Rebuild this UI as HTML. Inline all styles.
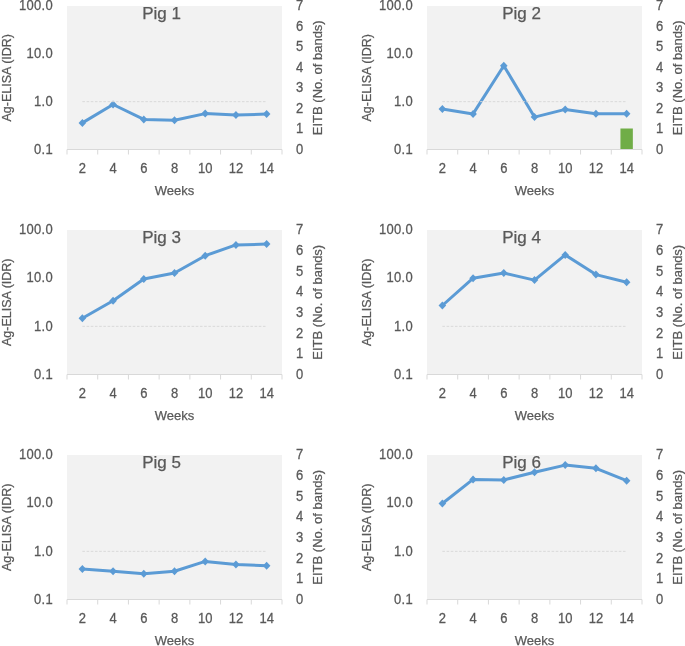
<!DOCTYPE html><html><head><meta charset="utf-8"><style>html,body{margin:0;padding:0;background:#fff;}svg{display:block;will-change:transform;}text{font-family:"Liberation Sans", sans-serif;fill:#595959;stroke:#595959;stroke-width:0.25px;}</style></head><body>
<svg width="685" height="646" viewBox="0 0 685 646">
<rect width="685" height="646" fill="#fff"/>
<rect x="67" y="6" width="215" height="143" fill="#F2F2F2"/>
<line x1="67" y1="149.5" x2="282" y2="149.5" stroke="#D9D9D9" stroke-width="1"/>
<line x1="67.00" y1="149.5" x2="67.00" y2="154.5" stroke="#D9D9D9" stroke-width="1"/>
<line x1="97.71" y1="149.5" x2="97.71" y2="154.5" stroke="#D9D9D9" stroke-width="1"/>
<line x1="128.43" y1="149.5" x2="128.43" y2="154.5" stroke="#D9D9D9" stroke-width="1"/>
<line x1="159.14" y1="149.5" x2="159.14" y2="154.5" stroke="#D9D9D9" stroke-width="1"/>
<line x1="189.86" y1="149.5" x2="189.86" y2="154.5" stroke="#D9D9D9" stroke-width="1"/>
<line x1="220.57" y1="149.5" x2="220.57" y2="154.5" stroke="#D9D9D9" stroke-width="1"/>
<line x1="251.29" y1="149.5" x2="251.29" y2="154.5" stroke="#D9D9D9" stroke-width="1"/>
<line x1="282.00" y1="149.5" x2="282.00" y2="154.5" stroke="#D9D9D9" stroke-width="1"/>
<polyline points="82.36,122.90 113.07,104.50 143.79,119.40 174.50,120.20 205.21,113.60 235.93,114.90 266.64,114.10" fill="none" stroke="#5B9BD5" stroke-width="3" stroke-linejoin="round" stroke-linecap="round"/>
<path d="M82.36 118.90L86.16 122.90L82.36 126.90L78.56 122.90Z" fill="#5B9BD5"/>
<path d="M113.07 100.50L116.87 104.50L113.07 108.50L109.27 104.50Z" fill="#5B9BD5"/>
<path d="M143.79 115.40L147.59 119.40L143.79 123.40L139.99 119.40Z" fill="#5B9BD5"/>
<path d="M174.50 116.20L178.30 120.20L174.50 124.20L170.70 120.20Z" fill="#5B9BD5"/>
<path d="M205.21 109.60L209.01 113.60L205.21 117.60L201.41 113.60Z" fill="#5B9BD5"/>
<path d="M235.93 110.90L239.73 114.90L235.93 118.90L232.13 114.90Z" fill="#5B9BD5"/>
<path d="M266.64 110.10L270.44 114.10L266.64 118.10L262.84 114.10Z" fill="#5B9BD5"/>
<line x1="82.36" y1="101.67" x2="266.64" y2="101.67" stroke="#D9D9D9" stroke-width="1" stroke-dasharray="2.6,1.6"/>
<text transform="translate(53.00,153.80) scale(1,1.08)" font-size="13" letter-spacing="0.3" text-anchor="end">0.1</text>
<text transform="translate(53.00,105.97) scale(1,1.08)" font-size="13" letter-spacing="0.3" text-anchor="end">1.0</text>
<text transform="translate(53.00,58.13) scale(1,1.08)" font-size="13" letter-spacing="0.3" text-anchor="end">10.0</text>
<text transform="translate(53.00,10.30) scale(1,1.08)" font-size="13" letter-spacing="0.3" text-anchor="end">100.0</text>
<text transform="translate(296.00,153.80) scale(1,1.08)" font-size="13">0</text>
<text transform="translate(296.00,133.30) scale(1,1.08)" font-size="13">1</text>
<text transform="translate(296.00,112.80) scale(1,1.08)" font-size="13">2</text>
<text transform="translate(296.00,92.30) scale(1,1.08)" font-size="13">3</text>
<text transform="translate(296.00,71.80) scale(1,1.08)" font-size="13">4</text>
<text transform="translate(296.00,51.30) scale(1,1.08)" font-size="13">5</text>
<text transform="translate(296.00,30.80) scale(1,1.08)" font-size="13">6</text>
<text transform="translate(296.00,10.30) scale(1,1.08)" font-size="13">7</text>
<text transform="translate(82.36,173.25) scale(1,1.08)" font-size="13" text-anchor="middle">2</text>
<text transform="translate(113.07,173.25) scale(1,1.08)" font-size="13" text-anchor="middle">4</text>
<text transform="translate(143.79,173.25) scale(1,1.08)" font-size="13" text-anchor="middle">6</text>
<text transform="translate(174.50,173.25) scale(1,1.08)" font-size="13" text-anchor="middle">8</text>
<text transform="translate(205.21,173.25) scale(1,1.08)" font-size="13" text-anchor="middle">10</text>
<text transform="translate(235.93,173.25) scale(1,1.08)" font-size="13" text-anchor="middle">12</text>
<text transform="translate(266.64,173.25) scale(1,1.08)" font-size="13" text-anchor="middle">14</text>
<text x="174.50" y="195.10" font-size="13" text-anchor="middle">Weeks</text>
<text x="161.50" y="18.60" font-size="17" text-anchor="middle">Pig 1</text>
<text transform="translate(11.00,77.75) rotate(-90)" font-size="13" text-anchor="middle" textLength="87.5" lengthAdjust="spacingAndGlyphs">Ag-ELISA (IDR)</text>
<text transform="translate(322.00,77.75) rotate(-90)" font-size="13" text-anchor="middle">EITB (No. of bands)</text>
<rect x="427" y="6" width="215" height="143" fill="#F2F2F2"/>
<rect x="620.44" y="128.50" width="12.4" height="20.50" fill="#70AD47"/>
<line x1="427" y1="149.5" x2="642" y2="149.5" stroke="#D9D9D9" stroke-width="1"/>
<line x1="427.00" y1="149.5" x2="427.00" y2="154.5" stroke="#D9D9D9" stroke-width="1"/>
<line x1="457.71" y1="149.5" x2="457.71" y2="154.5" stroke="#D9D9D9" stroke-width="1"/>
<line x1="488.43" y1="149.5" x2="488.43" y2="154.5" stroke="#D9D9D9" stroke-width="1"/>
<line x1="519.14" y1="149.5" x2="519.14" y2="154.5" stroke="#D9D9D9" stroke-width="1"/>
<line x1="549.86" y1="149.5" x2="549.86" y2="154.5" stroke="#D9D9D9" stroke-width="1"/>
<line x1="580.57" y1="149.5" x2="580.57" y2="154.5" stroke="#D9D9D9" stroke-width="1"/>
<line x1="611.29" y1="149.5" x2="611.29" y2="154.5" stroke="#D9D9D9" stroke-width="1"/>
<line x1="642.00" y1="149.5" x2="642.00" y2="154.5" stroke="#D9D9D9" stroke-width="1"/>
<polyline points="442.36,109.10 473.07,113.90 503.79,65.70 534.50,117.10 565.21,109.40 595.93,113.70 626.64,113.70" fill="none" stroke="#5B9BD5" stroke-width="3" stroke-linejoin="round" stroke-linecap="round"/>
<path d="M442.36 105.10L446.16 109.10L442.36 113.10L438.56 109.10Z" fill="#5B9BD5"/>
<path d="M473.07 109.90L476.87 113.90L473.07 117.90L469.27 113.90Z" fill="#5B9BD5"/>
<path d="M503.79 61.70L507.59 65.70L503.79 69.70L499.99 65.70Z" fill="#5B9BD5"/>
<path d="M534.50 113.10L538.30 117.10L534.50 121.10L530.70 117.10Z" fill="#5B9BD5"/>
<path d="M565.21 105.40L569.01 109.40L565.21 113.40L561.41 109.40Z" fill="#5B9BD5"/>
<path d="M595.93 109.70L599.73 113.70L595.93 117.70L592.13 113.70Z" fill="#5B9BD5"/>
<path d="M626.64 109.70L630.44 113.70L626.64 117.70L622.84 113.70Z" fill="#5B9BD5"/>
<line x1="442.36" y1="101.67" x2="626.64" y2="101.67" stroke="#D9D9D9" stroke-width="1" stroke-dasharray="2.6,1.6"/>
<text transform="translate(413.00,153.80) scale(1,1.08)" font-size="13" letter-spacing="0.3" text-anchor="end">0.1</text>
<text transform="translate(413.00,105.97) scale(1,1.08)" font-size="13" letter-spacing="0.3" text-anchor="end">1.0</text>
<text transform="translate(413.00,58.13) scale(1,1.08)" font-size="13" letter-spacing="0.3" text-anchor="end">10.0</text>
<text transform="translate(413.00,10.30) scale(1,1.08)" font-size="13" letter-spacing="0.3" text-anchor="end">100.0</text>
<text transform="translate(656.00,153.80) scale(1,1.08)" font-size="13">0</text>
<text transform="translate(656.00,133.30) scale(1,1.08)" font-size="13">1</text>
<text transform="translate(656.00,112.80) scale(1,1.08)" font-size="13">2</text>
<text transform="translate(656.00,92.30) scale(1,1.08)" font-size="13">3</text>
<text transform="translate(656.00,71.80) scale(1,1.08)" font-size="13">4</text>
<text transform="translate(656.00,51.30) scale(1,1.08)" font-size="13">5</text>
<text transform="translate(656.00,30.80) scale(1,1.08)" font-size="13">6</text>
<text transform="translate(656.00,10.30) scale(1,1.08)" font-size="13">7</text>
<text transform="translate(442.36,173.25) scale(1,1.08)" font-size="13" text-anchor="middle">2</text>
<text transform="translate(473.07,173.25) scale(1,1.08)" font-size="13" text-anchor="middle">4</text>
<text transform="translate(503.79,173.25) scale(1,1.08)" font-size="13" text-anchor="middle">6</text>
<text transform="translate(534.50,173.25) scale(1,1.08)" font-size="13" text-anchor="middle">8</text>
<text transform="translate(565.21,173.25) scale(1,1.08)" font-size="13" text-anchor="middle">10</text>
<text transform="translate(595.93,173.25) scale(1,1.08)" font-size="13" text-anchor="middle">12</text>
<text transform="translate(626.64,173.25) scale(1,1.08)" font-size="13" text-anchor="middle">14</text>
<text x="534.50" y="195.10" font-size="13" text-anchor="middle">Weeks</text>
<text x="521.50" y="18.60" font-size="17" text-anchor="middle">Pig 2</text>
<text transform="translate(371.00,77.75) rotate(-90)" font-size="13" text-anchor="middle" textLength="87.5" lengthAdjust="spacingAndGlyphs">Ag-ELISA (IDR)</text>
<text transform="translate(682.00,77.75) rotate(-90)" font-size="13" text-anchor="middle">EITB (No. of bands)</text>
<rect x="67" y="230" width="215" height="144" fill="#F2F2F2"/>
<line x1="67" y1="374.5" x2="282" y2="374.5" stroke="#D9D9D9" stroke-width="1"/>
<line x1="67.00" y1="374.5" x2="67.00" y2="379.5" stroke="#D9D9D9" stroke-width="1"/>
<line x1="97.71" y1="374.5" x2="97.71" y2="379.5" stroke="#D9D9D9" stroke-width="1"/>
<line x1="128.43" y1="374.5" x2="128.43" y2="379.5" stroke="#D9D9D9" stroke-width="1"/>
<line x1="159.14" y1="374.5" x2="159.14" y2="379.5" stroke="#D9D9D9" stroke-width="1"/>
<line x1="189.86" y1="374.5" x2="189.86" y2="379.5" stroke="#D9D9D9" stroke-width="1"/>
<line x1="220.57" y1="374.5" x2="220.57" y2="379.5" stroke="#D9D9D9" stroke-width="1"/>
<line x1="251.29" y1="374.5" x2="251.29" y2="379.5" stroke="#D9D9D9" stroke-width="1"/>
<line x1="282.00" y1="374.5" x2="282.00" y2="379.5" stroke="#D9D9D9" stroke-width="1"/>
<polyline points="82.36,318.30 113.07,300.70 143.79,279.00 174.50,273.00 205.21,255.70 235.93,244.90 266.64,244.10" fill="none" stroke="#5B9BD5" stroke-width="3" stroke-linejoin="round" stroke-linecap="round"/>
<path d="M82.36 314.30L86.16 318.30L82.36 322.30L78.56 318.30Z" fill="#5B9BD5"/>
<path d="M113.07 296.70L116.87 300.70L113.07 304.70L109.27 300.70Z" fill="#5B9BD5"/>
<path d="M143.79 275.00L147.59 279.00L143.79 283.00L139.99 279.00Z" fill="#5B9BD5"/>
<path d="M174.50 269.00L178.30 273.00L174.50 277.00L170.70 273.00Z" fill="#5B9BD5"/>
<path d="M205.21 251.70L209.01 255.70L205.21 259.70L201.41 255.70Z" fill="#5B9BD5"/>
<path d="M235.93 240.90L239.73 244.90L235.93 248.90L232.13 244.90Z" fill="#5B9BD5"/>
<path d="M266.64 240.10L270.44 244.10L266.64 248.10L262.84 244.10Z" fill="#5B9BD5"/>
<line x1="82.36" y1="326.33" x2="266.64" y2="326.33" stroke="#D9D9D9" stroke-width="1" stroke-dasharray="2.6,1.6"/>
<text transform="translate(53.00,378.80) scale(1,1.08)" font-size="13" letter-spacing="0.3" text-anchor="end">0.1</text>
<text transform="translate(53.00,330.63) scale(1,1.08)" font-size="13" letter-spacing="0.3" text-anchor="end">1.0</text>
<text transform="translate(53.00,282.47) scale(1,1.08)" font-size="13" letter-spacing="0.3" text-anchor="end">10.0</text>
<text transform="translate(53.00,234.30) scale(1,1.08)" font-size="13" letter-spacing="0.3" text-anchor="end">100.0</text>
<text transform="translate(296.00,378.80) scale(1,1.08)" font-size="13">0</text>
<text transform="translate(296.00,358.16) scale(1,1.08)" font-size="13">1</text>
<text transform="translate(296.00,337.51) scale(1,1.08)" font-size="13">2</text>
<text transform="translate(296.00,316.87) scale(1,1.08)" font-size="13">3</text>
<text transform="translate(296.00,296.23) scale(1,1.08)" font-size="13">4</text>
<text transform="translate(296.00,275.59) scale(1,1.08)" font-size="13">5</text>
<text transform="translate(296.00,254.94) scale(1,1.08)" font-size="13">6</text>
<text transform="translate(296.00,234.30) scale(1,1.08)" font-size="13">7</text>
<text transform="translate(82.36,398.25) scale(1,1.08)" font-size="13" text-anchor="middle">2</text>
<text transform="translate(113.07,398.25) scale(1,1.08)" font-size="13" text-anchor="middle">4</text>
<text transform="translate(143.79,398.25) scale(1,1.08)" font-size="13" text-anchor="middle">6</text>
<text transform="translate(174.50,398.25) scale(1,1.08)" font-size="13" text-anchor="middle">8</text>
<text transform="translate(205.21,398.25) scale(1,1.08)" font-size="13" text-anchor="middle">10</text>
<text transform="translate(235.93,398.25) scale(1,1.08)" font-size="13" text-anchor="middle">12</text>
<text transform="translate(266.64,398.25) scale(1,1.08)" font-size="13" text-anchor="middle">14</text>
<text x="174.50" y="420.10" font-size="13" text-anchor="middle">Weeks</text>
<text x="161.50" y="242.60" font-size="17" text-anchor="middle">Pig 3</text>
<text transform="translate(11.00,302.25) rotate(-90)" font-size="13" text-anchor="middle" textLength="87.5" lengthAdjust="spacingAndGlyphs">Ag-ELISA (IDR)</text>
<text transform="translate(322.00,302.25) rotate(-90)" font-size="13" text-anchor="middle">EITB (No. of bands)</text>
<rect x="427" y="230" width="215" height="144" fill="#F2F2F2"/>
<line x1="427" y1="374.5" x2="642" y2="374.5" stroke="#D9D9D9" stroke-width="1"/>
<line x1="427.00" y1="374.5" x2="427.00" y2="379.5" stroke="#D9D9D9" stroke-width="1"/>
<line x1="457.71" y1="374.5" x2="457.71" y2="379.5" stroke="#D9D9D9" stroke-width="1"/>
<line x1="488.43" y1="374.5" x2="488.43" y2="379.5" stroke="#D9D9D9" stroke-width="1"/>
<line x1="519.14" y1="374.5" x2="519.14" y2="379.5" stroke="#D9D9D9" stroke-width="1"/>
<line x1="549.86" y1="374.5" x2="549.86" y2="379.5" stroke="#D9D9D9" stroke-width="1"/>
<line x1="580.57" y1="374.5" x2="580.57" y2="379.5" stroke="#D9D9D9" stroke-width="1"/>
<line x1="611.29" y1="374.5" x2="611.29" y2="379.5" stroke="#D9D9D9" stroke-width="1"/>
<line x1="642.00" y1="374.5" x2="642.00" y2="379.5" stroke="#D9D9D9" stroke-width="1"/>
<polyline points="442.36,305.50 473.07,278.20 503.79,273.00 534.50,280.10 565.21,254.90 595.93,274.60 626.64,282.20" fill="none" stroke="#5B9BD5" stroke-width="3" stroke-linejoin="round" stroke-linecap="round"/>
<path d="M442.36 301.50L446.16 305.50L442.36 309.50L438.56 305.50Z" fill="#5B9BD5"/>
<path d="M473.07 274.20L476.87 278.20L473.07 282.20L469.27 278.20Z" fill="#5B9BD5"/>
<path d="M503.79 269.00L507.59 273.00L503.79 277.00L499.99 273.00Z" fill="#5B9BD5"/>
<path d="M534.50 276.10L538.30 280.10L534.50 284.10L530.70 280.10Z" fill="#5B9BD5"/>
<path d="M565.21 250.90L569.01 254.90L565.21 258.90L561.41 254.90Z" fill="#5B9BD5"/>
<path d="M595.93 270.60L599.73 274.60L595.93 278.60L592.13 274.60Z" fill="#5B9BD5"/>
<path d="M626.64 278.20L630.44 282.20L626.64 286.20L622.84 282.20Z" fill="#5B9BD5"/>
<line x1="442.36" y1="326.33" x2="626.64" y2="326.33" stroke="#D9D9D9" stroke-width="1" stroke-dasharray="2.6,1.6"/>
<text transform="translate(413.00,378.80) scale(1,1.08)" font-size="13" letter-spacing="0.3" text-anchor="end">0.1</text>
<text transform="translate(413.00,330.63) scale(1,1.08)" font-size="13" letter-spacing="0.3" text-anchor="end">1.0</text>
<text transform="translate(413.00,282.47) scale(1,1.08)" font-size="13" letter-spacing="0.3" text-anchor="end">10.0</text>
<text transform="translate(413.00,234.30) scale(1,1.08)" font-size="13" letter-spacing="0.3" text-anchor="end">100.0</text>
<text transform="translate(656.00,378.80) scale(1,1.08)" font-size="13">0</text>
<text transform="translate(656.00,358.16) scale(1,1.08)" font-size="13">1</text>
<text transform="translate(656.00,337.51) scale(1,1.08)" font-size="13">2</text>
<text transform="translate(656.00,316.87) scale(1,1.08)" font-size="13">3</text>
<text transform="translate(656.00,296.23) scale(1,1.08)" font-size="13">4</text>
<text transform="translate(656.00,275.59) scale(1,1.08)" font-size="13">5</text>
<text transform="translate(656.00,254.94) scale(1,1.08)" font-size="13">6</text>
<text transform="translate(656.00,234.30) scale(1,1.08)" font-size="13">7</text>
<text transform="translate(442.36,398.25) scale(1,1.08)" font-size="13" text-anchor="middle">2</text>
<text transform="translate(473.07,398.25) scale(1,1.08)" font-size="13" text-anchor="middle">4</text>
<text transform="translate(503.79,398.25) scale(1,1.08)" font-size="13" text-anchor="middle">6</text>
<text transform="translate(534.50,398.25) scale(1,1.08)" font-size="13" text-anchor="middle">8</text>
<text transform="translate(565.21,398.25) scale(1,1.08)" font-size="13" text-anchor="middle">10</text>
<text transform="translate(595.93,398.25) scale(1,1.08)" font-size="13" text-anchor="middle">12</text>
<text transform="translate(626.64,398.25) scale(1,1.08)" font-size="13" text-anchor="middle">14</text>
<text x="534.50" y="420.10" font-size="13" text-anchor="middle">Weeks</text>
<text x="521.50" y="242.60" font-size="17" text-anchor="middle">Pig 4</text>
<text transform="translate(371.00,302.25) rotate(-90)" font-size="13" text-anchor="middle" textLength="87.5" lengthAdjust="spacingAndGlyphs">Ag-ELISA (IDR)</text>
<text transform="translate(682.00,302.25) rotate(-90)" font-size="13" text-anchor="middle">EITB (No. of bands)</text>
<rect x="67" y="455" width="215" height="144" fill="#F2F2F2"/>
<line x1="67" y1="599.5" x2="282" y2="599.5" stroke="#D9D9D9" stroke-width="1"/>
<line x1="67.00" y1="599.5" x2="67.00" y2="604.5" stroke="#D9D9D9" stroke-width="1"/>
<line x1="97.71" y1="599.5" x2="97.71" y2="604.5" stroke="#D9D9D9" stroke-width="1"/>
<line x1="128.43" y1="599.5" x2="128.43" y2="604.5" stroke="#D9D9D9" stroke-width="1"/>
<line x1="159.14" y1="599.5" x2="159.14" y2="604.5" stroke="#D9D9D9" stroke-width="1"/>
<line x1="189.86" y1="599.5" x2="189.86" y2="604.5" stroke="#D9D9D9" stroke-width="1"/>
<line x1="220.57" y1="599.5" x2="220.57" y2="604.5" stroke="#D9D9D9" stroke-width="1"/>
<line x1="251.29" y1="599.5" x2="251.29" y2="604.5" stroke="#D9D9D9" stroke-width="1"/>
<line x1="282.00" y1="599.5" x2="282.00" y2="604.5" stroke="#D9D9D9" stroke-width="1"/>
<polyline points="82.36,568.90 113.07,571.30 143.79,573.70 174.50,571.30 205.21,561.40 235.93,564.40 266.64,565.70" fill="none" stroke="#5B9BD5" stroke-width="3" stroke-linejoin="round" stroke-linecap="round"/>
<path d="M82.36 564.90L86.16 568.90L82.36 572.90L78.56 568.90Z" fill="#5B9BD5"/>
<path d="M113.07 567.30L116.87 571.30L113.07 575.30L109.27 571.30Z" fill="#5B9BD5"/>
<path d="M143.79 569.70L147.59 573.70L143.79 577.70L139.99 573.70Z" fill="#5B9BD5"/>
<path d="M174.50 567.30L178.30 571.30L174.50 575.30L170.70 571.30Z" fill="#5B9BD5"/>
<path d="M205.21 557.40L209.01 561.40L205.21 565.40L201.41 561.40Z" fill="#5B9BD5"/>
<path d="M235.93 560.40L239.73 564.40L235.93 568.40L232.13 564.40Z" fill="#5B9BD5"/>
<path d="M266.64 561.70L270.44 565.70L266.64 569.70L262.84 565.70Z" fill="#5B9BD5"/>
<line x1="82.36" y1="551.33" x2="266.64" y2="551.33" stroke="#D9D9D9" stroke-width="1" stroke-dasharray="2.6,1.6"/>
<text transform="translate(53.00,603.80) scale(1,1.08)" font-size="13" letter-spacing="0.3" text-anchor="end">0.1</text>
<text transform="translate(53.00,555.63) scale(1,1.08)" font-size="13" letter-spacing="0.3" text-anchor="end">1.0</text>
<text transform="translate(53.00,507.47) scale(1,1.08)" font-size="13" letter-spacing="0.3" text-anchor="end">10.0</text>
<text transform="translate(53.00,459.30) scale(1,1.08)" font-size="13" letter-spacing="0.3" text-anchor="end">100.0</text>
<text transform="translate(296.00,603.80) scale(1,1.08)" font-size="13">0</text>
<text transform="translate(296.00,583.16) scale(1,1.08)" font-size="13">1</text>
<text transform="translate(296.00,562.51) scale(1,1.08)" font-size="13">2</text>
<text transform="translate(296.00,541.87) scale(1,1.08)" font-size="13">3</text>
<text transform="translate(296.00,521.23) scale(1,1.08)" font-size="13">4</text>
<text transform="translate(296.00,500.59) scale(1,1.08)" font-size="13">5</text>
<text transform="translate(296.00,479.94) scale(1,1.08)" font-size="13">6</text>
<text transform="translate(296.00,459.30) scale(1,1.08)" font-size="13">7</text>
<text transform="translate(82.36,623.25) scale(1,1.08)" font-size="13" text-anchor="middle">2</text>
<text transform="translate(113.07,623.25) scale(1,1.08)" font-size="13" text-anchor="middle">4</text>
<text transform="translate(143.79,623.25) scale(1,1.08)" font-size="13" text-anchor="middle">6</text>
<text transform="translate(174.50,623.25) scale(1,1.08)" font-size="13" text-anchor="middle">8</text>
<text transform="translate(205.21,623.25) scale(1,1.08)" font-size="13" text-anchor="middle">10</text>
<text transform="translate(235.93,623.25) scale(1,1.08)" font-size="13" text-anchor="middle">12</text>
<text transform="translate(266.64,623.25) scale(1,1.08)" font-size="13" text-anchor="middle">14</text>
<text x="174.50" y="645.10" font-size="13" text-anchor="middle">Weeks</text>
<text x="161.50" y="467.60" font-size="17" text-anchor="middle">Pig 5</text>
<text transform="translate(11.00,527.25) rotate(-90)" font-size="13" text-anchor="middle" textLength="87.5" lengthAdjust="spacingAndGlyphs">Ag-ELISA (IDR)</text>
<text transform="translate(322.00,527.25) rotate(-90)" font-size="13" text-anchor="middle">EITB (No. of bands)</text>
<rect x="427" y="455" width="215" height="144" fill="#F2F2F2"/>
<line x1="427" y1="599.5" x2="642" y2="599.5" stroke="#D9D9D9" stroke-width="1"/>
<line x1="427.00" y1="599.5" x2="427.00" y2="604.5" stroke="#D9D9D9" stroke-width="1"/>
<line x1="457.71" y1="599.5" x2="457.71" y2="604.5" stroke="#D9D9D9" stroke-width="1"/>
<line x1="488.43" y1="599.5" x2="488.43" y2="604.5" stroke="#D9D9D9" stroke-width="1"/>
<line x1="519.14" y1="599.5" x2="519.14" y2="604.5" stroke="#D9D9D9" stroke-width="1"/>
<line x1="549.86" y1="599.5" x2="549.86" y2="604.5" stroke="#D9D9D9" stroke-width="1"/>
<line x1="580.57" y1="599.5" x2="580.57" y2="604.5" stroke="#D9D9D9" stroke-width="1"/>
<line x1="611.29" y1="599.5" x2="611.29" y2="604.5" stroke="#D9D9D9" stroke-width="1"/>
<line x1="642.00" y1="599.5" x2="642.00" y2="604.5" stroke="#D9D9D9" stroke-width="1"/>
<polyline points="442.36,503.50 473.07,479.40 503.79,479.90 534.50,472.30 565.21,465.10 595.93,468.30 626.64,480.70" fill="none" stroke="#5B9BD5" stroke-width="3" stroke-linejoin="round" stroke-linecap="round"/>
<path d="M442.36 499.50L446.16 503.50L442.36 507.50L438.56 503.50Z" fill="#5B9BD5"/>
<path d="M473.07 475.40L476.87 479.40L473.07 483.40L469.27 479.40Z" fill="#5B9BD5"/>
<path d="M503.79 475.90L507.59 479.90L503.79 483.90L499.99 479.90Z" fill="#5B9BD5"/>
<path d="M534.50 468.30L538.30 472.30L534.50 476.30L530.70 472.30Z" fill="#5B9BD5"/>
<path d="M565.21 461.10L569.01 465.10L565.21 469.10L561.41 465.10Z" fill="#5B9BD5"/>
<path d="M595.93 464.30L599.73 468.30L595.93 472.30L592.13 468.30Z" fill="#5B9BD5"/>
<path d="M626.64 476.70L630.44 480.70L626.64 484.70L622.84 480.70Z" fill="#5B9BD5"/>
<line x1="442.36" y1="551.33" x2="626.64" y2="551.33" stroke="#D9D9D9" stroke-width="1" stroke-dasharray="2.6,1.6"/>
<text transform="translate(413.00,603.80) scale(1,1.08)" font-size="13" letter-spacing="0.3" text-anchor="end">0.1</text>
<text transform="translate(413.00,555.63) scale(1,1.08)" font-size="13" letter-spacing="0.3" text-anchor="end">1.0</text>
<text transform="translate(413.00,507.47) scale(1,1.08)" font-size="13" letter-spacing="0.3" text-anchor="end">10.0</text>
<text transform="translate(413.00,459.30) scale(1,1.08)" font-size="13" letter-spacing="0.3" text-anchor="end">100.0</text>
<text transform="translate(656.00,603.80) scale(1,1.08)" font-size="13">0</text>
<text transform="translate(656.00,583.16) scale(1,1.08)" font-size="13">1</text>
<text transform="translate(656.00,562.51) scale(1,1.08)" font-size="13">2</text>
<text transform="translate(656.00,541.87) scale(1,1.08)" font-size="13">3</text>
<text transform="translate(656.00,521.23) scale(1,1.08)" font-size="13">4</text>
<text transform="translate(656.00,500.59) scale(1,1.08)" font-size="13">5</text>
<text transform="translate(656.00,479.94) scale(1,1.08)" font-size="13">6</text>
<text transform="translate(656.00,459.30) scale(1,1.08)" font-size="13">7</text>
<text transform="translate(442.36,623.25) scale(1,1.08)" font-size="13" text-anchor="middle">2</text>
<text transform="translate(473.07,623.25) scale(1,1.08)" font-size="13" text-anchor="middle">4</text>
<text transform="translate(503.79,623.25) scale(1,1.08)" font-size="13" text-anchor="middle">6</text>
<text transform="translate(534.50,623.25) scale(1,1.08)" font-size="13" text-anchor="middle">8</text>
<text transform="translate(565.21,623.25) scale(1,1.08)" font-size="13" text-anchor="middle">10</text>
<text transform="translate(595.93,623.25) scale(1,1.08)" font-size="13" text-anchor="middle">12</text>
<text transform="translate(626.64,623.25) scale(1,1.08)" font-size="13" text-anchor="middle">14</text>
<text x="534.50" y="645.10" font-size="13" text-anchor="middle">Weeks</text>
<text x="521.50" y="467.60" font-size="17" text-anchor="middle">Pig 6</text>
<text transform="translate(371.00,527.25) rotate(-90)" font-size="13" text-anchor="middle" textLength="87.5" lengthAdjust="spacingAndGlyphs">Ag-ELISA (IDR)</text>
<text transform="translate(682.00,527.25) rotate(-90)" font-size="13" text-anchor="middle">EITB (No. of bands)</text>
</svg></body></html>
